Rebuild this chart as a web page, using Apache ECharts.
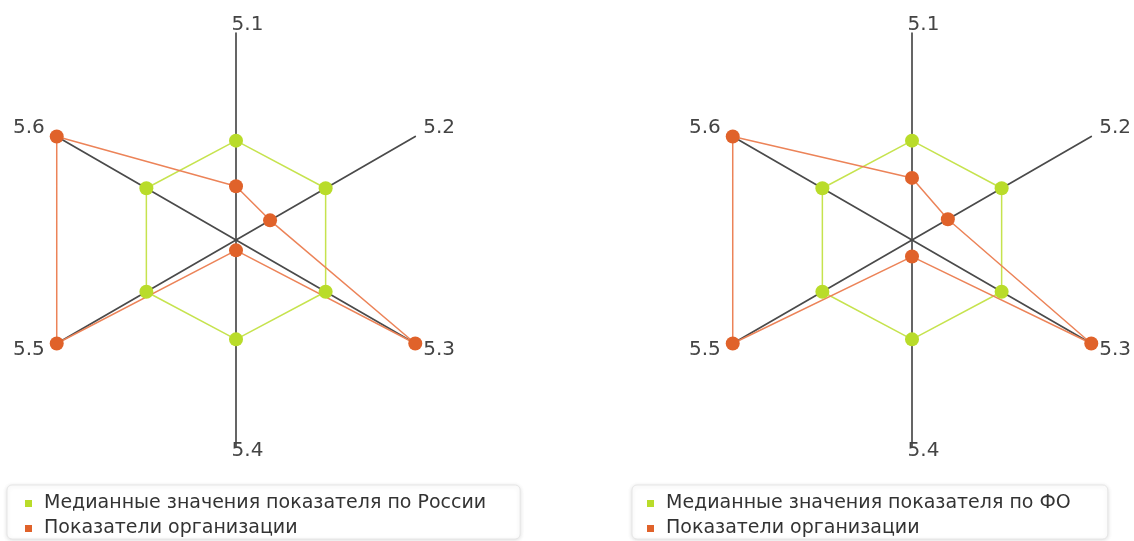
<!DOCTYPE html>
<html>
<head>
<meta charset="utf-8">
<script src="https://cdn.jsdelivr.net/npm/echarts@6/dist/echarts.min.js"></script>
<style>
	html, body { margin: 0; padding: 0; background: #fff; }
	#radar2 { width: 1134px; height: 541px; }
</style>
</head>
<body>
<div id="radar2"></div>
<script>
// indicators in clock order, starting from the top
const indicatorNames = ['5.1', '5.2', '5.3', '5.4', '5.5', '5.6'];
const axisMax = 100;

const russiaMedian = [48, 50, 50, 48, 50, 50];
const orgVsRussia = [26, 19, 100, 5, 100, 100];

const foMedian = [48, 50, 50, 48, 50, 50];
const orgVsFo = [30, 20, 100, 8, 100, 100];

const seriesNames = ['Медианные значения показателя по России', 'Показатели организации', 'Медианные значения показателя по ФО'];

// echarts lays indicators out counterclockwise, so walk them backwards after the first
const order = [0, 5, 4, 3, 2, 1];
const pick = arr => order.map(i => arr[i]);

var chart = echarts.init(document.getElementById('radar2'));

const green = '#b9dc2a';
const orange = '#e0622a';
const labelRich = {
	top: { padding: [0, 0, 0, 23], lineHeight: 17 },
	bot: { padding: [0, 0, 0, 23], lineHeight: 7 },
	ur: { padding: [0, 0, 18, 8], lineHeight: 20 },
	lr: { padding: [12, 0, 0, 8], lineHeight: 20 },
	ul: { padding: [0, 12, 18, 0], lineHeight: 20 },
	ll: { padding: [12, 12, 0, 0], lineHeight: 20 }
};
const labelKey = { '5.1': 'top', '5.2': 'ur', '5.3': 'lr', '5.4': 'bot', '5.5': 'll', '5.6': 'ul' };

function radarAt(cx) {
	return {
		center: [cx, 240],
		radius: 207,
		startAngle: 90,
		shape: 'polygon',
		indicator: pick(indicatorNames).map(n => ({ name: n, max: axisMax })),
		nameGap: 0,
		axisName: {
			color: '#444',
			fontFamily: 'DejaVu Sans',
			fontSize: 20,
			formatter: function(name) {
				return '{' + labelKey[name] + '|' + name + '}';
			},
			rich: labelRich
		},
		splitLine: { show: false },
		splitArea: { show: false },
		axisTick: { show: false },
		axisLine: {
			lineStyle: { color: '#4a4a4a', width: 1.7 }
		}
	};
}

function legendAt(left, names, padLeft, padRight) {
	return {
		data: names,
		orient: 'vertical',
		left: left,
		top: 485,
		height: 120,
		icon: 'rect',
		itemWidth: 7,
		itemHeight: 7,
		itemGap: 6,
		padding: [9, padRight, 1, padLeft],
		backgroundColor: '#fff',
		borderColor: '#e6e6e6',
		borderWidth: 1,
		borderRadius: 5,
		shadowBlur: 4,
		shadowColor: 'rgba(0,0,0,0.12)',
		shadowOffsetY: 1,
		textStyle: {
			fontFamily: 'DejaVu Sans',
			fontSize: 19,
			color: '#333',
			padding: [0, 0, 0, 7]
		}
	};
}

function lineSeries(radarIndex, name, values, dot, line) {
	return {
		type: 'radar',
		radarIndex: radarIndex,
		symbol: 'circle',
		symbolSize: 14,
		itemStyle: { color: dot },
		lineStyle: { color: line, width: 1.5 },
		data: [{ name: name, value: pick(values) }]
	};
}

option = {
	backgroundColor: '#fff',
	animation: false,
	radar: [radarAt(236), radarAt(912)],
	legend: [
		legendAt(7, [seriesNames[0], seriesNames[1]], 18, 34),
		legendAt(632, [seriesNames[2], seriesNames[1]], 15, 37)
	],
	series: [
		lineSeries(0, seriesNames[0], russiaMedian, green, '#c6e34e'),
		lineSeries(0, seriesNames[1], orgVsRussia, orange, '#ec8358'),
		lineSeries(1, seriesNames[2], foMedian, green, '#c6e34e'),
		lineSeries(1, seriesNames[1], orgVsFo, orange, '#ec8358')
	]
};

chart.setOption(option);

window.onresize = function() {
	chart.resize();
}
</script>
</body>
</html>
